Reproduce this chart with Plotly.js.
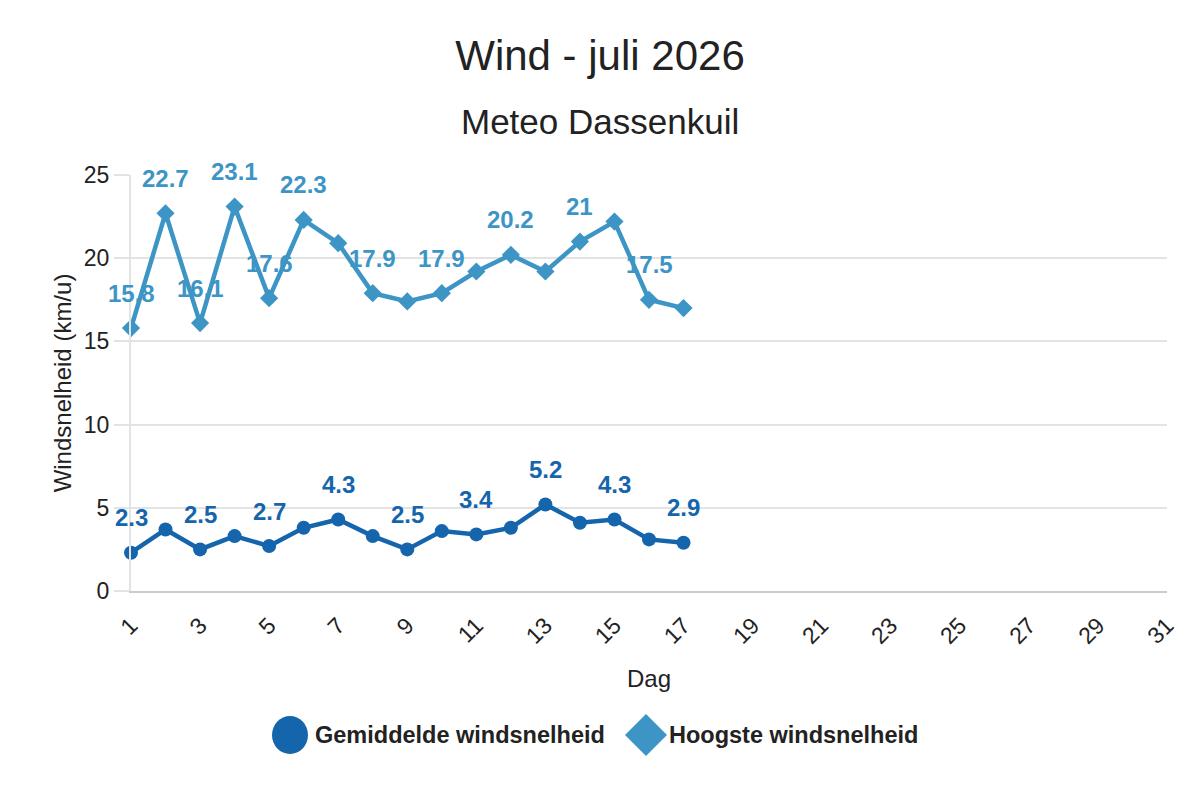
<!DOCTYPE html>
<html>
<head>
<meta charset="utf-8">
<script src="https://cdn.plot.ly/plotly-3.0.1.min.js"></script>
<style>html,body{margin:0;padding:0;background:#fff;}#chart{width:1200px;height:800px;}</style>
</head>
<body>
<div id="chart"></div>
<script>
// ---- data ----
const days = [1,2,3,4,5,6,7,8,9,10,11,12,13,14,15,16,17];
const avgWind = [2.3,3.7,2.5,3.3,2.7,3.8,4.3,3.3,2.5,3.6,3.4,3.8,5.2,4.1,4.3,3.1,2.9];
const maxWind = [15.8,22.7,16.1,23.1,17.6,22.3,20.9,17.9,17.4,17.9,19.2,20.2,19.2,21.0,22.2,17.5,17.0];
const avgLabelDays = [1,3,5,7,9,11,13,15,17];
const maxLabelDays = [1,2,3,4,5,6,8,10,12,14,16];
const xTickVals = [1,3,5,7,9,11,13,15,17,19,21,23,25,27,29,31];
const seriesNames = ['Gemiddelde windsnelheid','Hoogste windsnelheid'];
const chartTitle = 'Wind - juli 2026';
const chartSubtitle = 'Meteo Dassenkuil';
const xTitle = 'Dag';
const yTitle = 'Windsnelheid (km/u)';

// ---- style ----
const FONT = 'Liberation Sans, Arial, sans-serif';
const cAvg = '#1565ad';
const cMax = '#3d95c6';
const L = 131, R = 33, T = 175, B = 209;
const W = 1200, H = 800;
const pw = W - L - R, ph = H - T - B;
const px = v => (v - L) / pw;          // pixel x -> paper
const py = v => (H - B - v) / ph;      // pixel y -> paper

const traces = [
  {x: days, y: avgWind, name: seriesNames[0], type: 'scatter', mode: 'lines+markers',
   line: {color: cAvg, width: 4.5}, marker: {color: cAvg, size: 14, symbol: 'circle'},
   cliponaxis: false, showlegend: false, hoverinfo: 'x+y'},
  {x: days, y: maxWind, name: seriesNames[1], type: 'scatter', mode: 'lines+markers',
   line: {color: cMax, width: 4.5}, marker: {color: cMax, size: 14, symbol: 'diamond'},
   cliponaxis: false, showlegend: false, hoverinfo: 'x+y'}
];

const annotations = [];
function addLabels(labelDays, vals, color) {
  labelDays.forEach(d => {
    const i = days.indexOf(d);
    annotations.push({x: d, y: vals[i], xref: 'x', yref: 'y', text: String(vals[i]),
      showarrow: false, yshift: 35, xanchor: 'center', yanchor: 'middle',
      font: {family: FONT, size: 24, color: color, weight: 'bold'}});
  });
}
addLabels(avgLabelDays, avgWind, cAvg);
addLabels(maxLabelDays, maxWind, cMax);

annotations.push({xref: 'paper', yref: 'paper', x: px(600), y: py(122), text: chartSubtitle,
  showarrow: false, xanchor: 'center', yanchor: 'middle',
  font: {family: FONT, size: 35, color: '#222'}});

// custom legend
annotations.push({xref: 'paper', yref: 'paper', x: px(313), y: py(735), text: '<b>' + seriesNames[0] + '</b>',
  showarrow: false, xanchor: 'left', yanchor: 'middle', font: {family: FONT, size: 23.5, color: '#222'}});
annotations.push({xref: 'paper', yref: 'paper', x: px(667), y: py(735), text: '<b>' + seriesNames[1] + '</b>',
  showarrow: false, xanchor: 'left', yanchor: 'middle', font: {family: FONT, size: 23.5, color: '#222'}});

const shapes = [
  {type: 'circle', xref: 'paper', yref: 'paper', xsizemode: 'pixel', ysizemode: 'pixel',
   xanchor: px(290), yanchor: py(735), x0: -18, x1: 18, y0: -19, y1: 19,
   fillcolor: cAvg, line: {width: 0}},
  {type: 'path', xref: 'paper', yref: 'paper', xsizemode: 'pixel', ysizemode: 'pixel',
   xanchor: px(646), yanchor: py(735), path: 'M -21 0 L 0 21 L 21 0 L 0 -21 Z',
   fillcolor: cMax, line: {width: 0}}
];

const layout = {
  width: W, height: H,
  margin: {l: L, r: R, t: T, b: B},
  paper_bgcolor: '#fff', plot_bgcolor: '#fff',
  font: {family: FONT, color: '#222'},
  title: {text: chartTitle, x: 0.5, xref: 'container', y: 1 - 55 / 800, yref: 'container',
    xanchor: 'center', yanchor: 'middle', font: {family: FONT, size: 42, color: '#222'}},
  showlegend: false,
  xaxis: {range: [1, 31], tickvals: xTickVals, ticktext: xTickVals.map(String), tickangle: -45,
    showgrid: false, zeroline: false, showline: true, linecolor: '#cccccc', linewidth: 2,
    ticks: 'outside', ticklen: 10, tickcolor: 'rgba(0,0,0,0)', tickfont: {family: FONT, size: 23, color: '#222'},
    title: {text: xTitle, font: {family: FONT, size: 24, color: '#222'}, standoff: 22}},
  yaxis: {range: [0, 25], dtick: 5, showgrid: true, gridcolor: '#e3e3e3', gridwidth: 2,
    zeroline: false, showline: true, linecolor: '#e3e3e3', linewidth: 2,
    ticks: 'outside', ticklen: 15, tickcolor: '#e3e3e3', tickwidth: 2,
    tickfont: {family: FONT, size: 23, color: '#222'},
    title: {text: yTitle, font: {family: FONT, size: 24, color: '#222'}, standoff: 5}},
  annotations: annotations,
  shapes: shapes
};

Plotly.newPlot('chart', traces, layout, {displayModeBar: false, staticPlot: true});
</script>
</body>
</html>
